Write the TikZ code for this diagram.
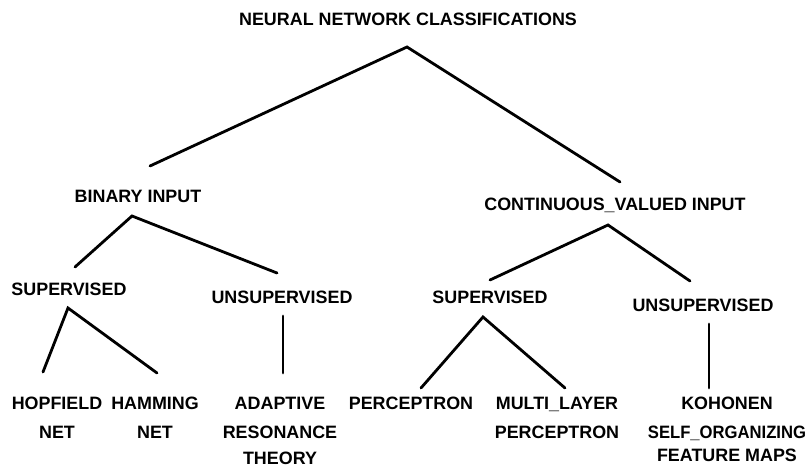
\documentclass[tikz,border=0pt]{standalone}
\usepackage{fontspec}
\setmainfont{Liberation Sans}
\begin{document}
\begin{tikzpicture}[x=1pt,y=-1pt,
  lbl/.style={font=\fontsize{17.9}{29}\selectfont\bfseries, inner sep=0pt, anchor=base},
  leaf/.style={font=\fontsize{17.9}{29}\selectfont\bfseries, inner sep=0pt, anchor=north, align=center},
  branch/.style={line width=2.8pt, line cap=round, line join=miter}]
\useasboundingbox (0,0) rectangle (812,468);

% category labels
\node[lbl] (root)   at (408,26)  {NEURAL NETWORK CLASSIFICATIONS};
\node[lbl] (binary) at (138,203) {BINARY INPUT};
\node[lbl] (cont)   at (615,211) {CONTINUOUS\_VALUED INPUT};
\node[lbl] (supB)   at (69,295)  {SUPERVISED};
\node[lbl] (unsB)   at (282,303) {UNSUPERVISED};
\node[lbl] (supC)   at (490,303) {SUPERVISED};
\node[lbl] (unsC)   at (703,311) {UNSUPERVISED};

% network types
\node[leaf] (hopfield) at (57,397)  {HOPFIELD\\NET};
\node[leaf] (hamming)  at (155,397) {HAMMING\\NET};
\node[leaf] (art)      at (280,397) {ADAPTIVE\\RESONANCE\\[-3pt]THEORY};
\node[leaf] (perc)     at (411,397) {PERCEPTRON};
\node[leaf] (mlp)      at (557,397) {MULTI\_LAYER\\PERCEPTRON};
\node[leaf] (kohonen)  at (727,397) {KOHONEN\\\scalebox{0.93}[1]{SELF\_ORGANIZING}\\[-6pt]FEATURE MAPS};

% branch points and branch ends
\coordinate (root-p)  at (407,47);
\coordinate (binary-e) at (150,166);
\coordinate (cont-e)   at (620,182);
\coordinate (binary-p) at (132,216);
\coordinate (supB-e)   at (75,267);
\coordinate (unsB-e)   at (277,273);
\coordinate (cont-p)   at (608,225);
\coordinate (supC-e)   at (490,280);
\coordinate (unsC-e)   at (690,281);
\coordinate (supB-p)   at (68,308);
\coordinate (hopfield-e) at (43,372);
\coordinate (hamming-e)  at (157,373);
\coordinate (unsB-p)   at (283,316);
\coordinate (art-e)    at (283,373);
\coordinate (supC-p)   at (483,317);
\coordinate (perc-e)   at (421,388);
\coordinate (mlp-e)    at (565,388);
\coordinate (unsC-p)   at (709,324);
\coordinate (kohonen-e) at (709,388);

% tree branches
\draw[branch] (binary-e) -- (root-p) -- (cont-e);
\draw[branch] (supB-e) -- (binary-p) -- (unsB-e);
\draw[branch] (supC-e) -- (cont-p) -- (unsC-e);
\draw[branch] (hopfield-e) -- (supB-p) -- (hamming-e);
\draw[branch] (unsB-p) -- (art-e);
\draw[branch] (perc-e) -- (supC-p) -- (mlp-e);
\draw[branch] (unsC-p) -- (kohonen-e);
\end{tikzpicture}
\end{document}
